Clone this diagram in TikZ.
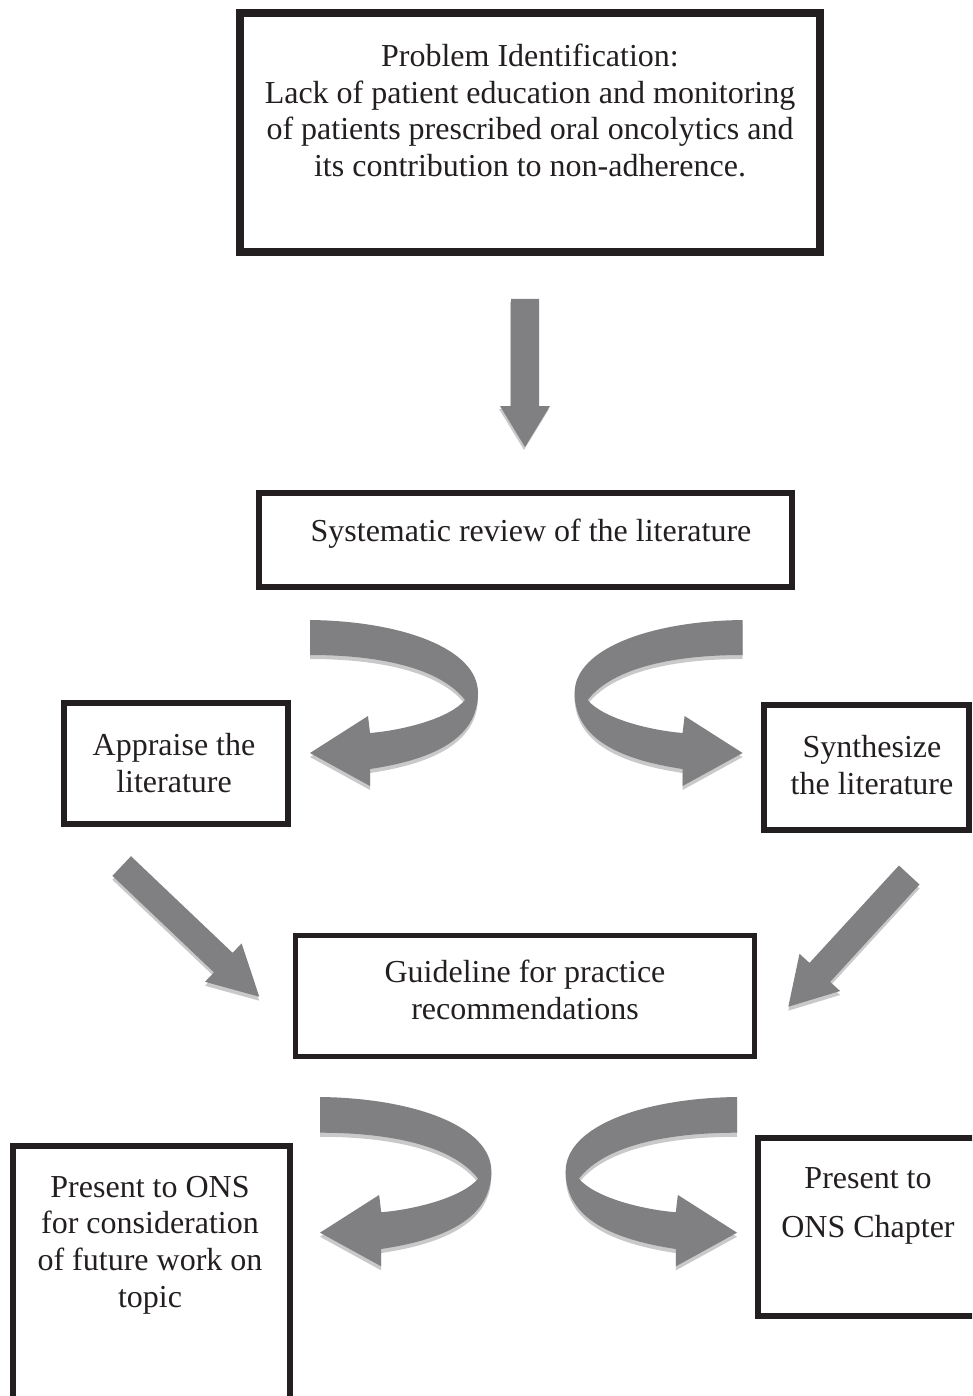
\documentclass[tikz,border=0pt]{standalone}
\usepackage{fontspec}
\setmainfont{Liberation Serif}
\definecolor{ink}{HTML}{231F20}
\definecolor{arrowgray}{HTML}{808083}
\definecolor{shade}{HTML}{C9C9C9}
\tikzset{
  box/.style={draw=ink, line width=6pt, inner sep=0pt},
  txt/.style={text=ink, align=center, font=\fontsize{32}{36.6}\selectfont, inner sep=0pt},
  blk/.style={fill=arrowgray},
  shd/.style={fill=shade},
}
\newcommand\uturnshape{(310,620) .. controls (400,621) and (478,648) .. (478,693) .. controls (478,740) and (430,760) .. (370,769) -- (370,786) -- (310,753) -- (368,716) -- (370,733) .. controls (405,730) and (450,718) .. (465,700) .. controls (440,668) and (380,655) .. (310,655) -- cycle}
\newcommand\downshape{(511,299) -- (539,299) -- (539,406) -- (550,406) -- (525,447) -- (500,406) -- (511,406) -- cycle}
\newcommand\diagleftshape{(131.0,856.2) -- (232.6,952.8) -- (241.6,943.4) -- (259.3,996.7) -- (205.0,981.8) -- (214.0,972.4) -- (112.4,875.8) -- cycle}
\newcommand\diagrightshape{(898.9,865.5) -- (809.5,962.9) -- (799.5,953.8) -- (788.3,1006.7) -- (840.1,991.0) -- (830.1,981.9) -- (919.5,884.5) -- cycle}
\begin{document}
\begin{tikzpicture}[x=1pt,y=-1pt]
\useasboundingbox (0,0) rectangle (972,1396);
\clip (0,0) rectangle (972,1396);

% boxes
\node[box, line width=8pt, minimum width=580pt, minimum height=239pt] (prob) at (530,132.5) {};
\node[box, minimum width=533pt, minimum height=94pt] (sys) at (525.5,540) {};
\node[box, minimum width=224pt, minimum height=121pt] (app) at (176,763.5) {};
\node[box, minimum width=205pt, minimum height=125pt] (syn) at (866.5,767.5) {};
\node[box, line width=5pt, minimum width=459pt, minimum height=121pt] (gui) at (524.5,995.5) {};
\node[box, line width=6.5pt, minimum width=277pt, minimum height=274pt] (ons) at (151.5,1283) {};
\node[box, line width=6.5pt, minimum width=232pt, minimum height=178pt] (chap) at (874,1227) {};

% texts
\node[txt] (prob-t) at (530,110.5) {Problem Identification:\\Lack of patient education and monitoring\\of patients prescribed oral oncolytics and\\its contribution to non-adherence.};
\node[txt] (sys-t) at (531,534) {Systematic review of the literature};
\node[txt] (app-t) at (174,763) {Appraise the\\literature};
\node[txt] (syn-t) at (872,765) {Synthesize\\the literature};
\node[txt] (gui-t) at (525,990) {Guideline for practice\\recommendations};
\node[txt] (ons-t) at (150,1245) {Present to ONS\\for consideration\\of future work on\\topic};
\node[txt] (chap-t) at (868,1206) {Present to\\[12pt]ONS Chapter};

% straight block arrows
\fill[shd] [shift={(-1,3)}] \downshape;
\fill[blk] \downshape;
\fill[shd] [shift={(0,4)}] \diagleftshape;
\fill[blk] \diagleftshape;
\fill[shd] [shift={(0,4)}] \diagrightshape;
\fill[blk] \diagrightshape;

% curved arrows (upper pair)
\begin{scope}
  \fill[shd] [shift={(0,4)}] \uturnshape;
  \fill[blk] \uturnshape;
\end{scope}
\begin{scope}[xshift=1052.6pt, xscale=-1]
  \fill[shd] [shift={(0,4)}] \uturnshape;
  \fill[blk] \uturnshape;
\end{scope}
% curved arrows (lower pair)
\begin{scope}[shift={(320,1097)}, scale=1.02, shift={(-310,-620)}]
  \fill[shd] [shift={(0,4)}] \uturnshape;
  \fill[blk] \uturnshape;
\end{scope}
\begin{scope}[xshift=1057pt, xscale=-1, shift={(320,1097)}, scale=1.02, shift={(-310,-620)}]
  \fill[shd] [shift={(0,4)}] \uturnshape;
  \fill[blk] \uturnshape;
\end{scope}
\end{tikzpicture}
\end{document}
